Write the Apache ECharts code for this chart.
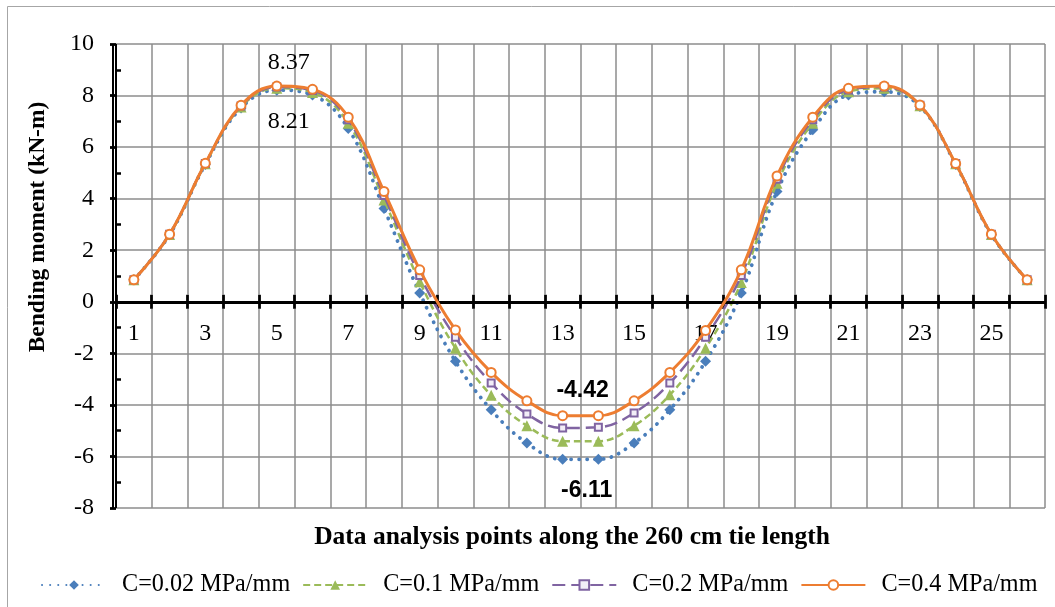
<!DOCTYPE html>
<html><head><meta charset="utf-8">
<script src="https://cdn.jsdelivr.net/npm/echarts@6/dist/echarts.min.js"></script>
<style>html,body{margin:0;padding:0;background:#fff}#c{width:1055px;height:607px}</style>
</head><body><div id="c"></div>
<script>
const categories = ['1','2','3','4','5','6','7','8','9','10','11','12','13','14','15','16','17','18','19','20','21','22','23','24','25','26'];
const seriesNames = ['C=0.02 MPa/mm','C=0.1 MPa/mm','C=0.2 MPa/mm','C=0.4 MPa/mm'];
const c002 = [0.85,2.60,5.33,7.52,8.21,8.02,6.72,3.62,0.34,-2.31,-4.19,-5.48,-6.11,-6.11,-5.48,-4.19,-2.31,0.34,4.28,6.67,8.02,8.15,7.58,5.33,2.60,0.85];
const c01  = [0.85,2.61,5.35,7.56,8.28,8.12,6.93,3.95,0.78,-1.80,-3.63,-4.81,-5.41,-5.41,-4.81,-3.61,-1.80,0.75,4.60,6.93,8.15,8.28,7.60,5.35,2.61,0.85];
const c02  = [0.85,2.62,5.36,7.59,8.33,8.20,7.06,4.12,1.02,-1.38,-3.15,-4.35,-4.90,-4.87,-4.31,-3.15,-1.38,1.02,4.75,7.06,8.22,8.33,7.62,5.36,2.62,0.85];
const c04  = [0.85,2.62,5.37,7.62,8.37,8.24,7.16,4.28,1.24,-1.09,-2.74,-3.84,-4.42,-4.42,-3.84,-2.74,-1.11,1.24,4.88,7.16,8.28,8.37,7.63,5.36,2.62,0.85];
const yMin = -8, yMax = 10, yStep = 2;

const serif = '"Liberation Serif", "DejaVu Serif", serif';
const sans = '"Liberation Sans", Arial, sans-serif';

function withLabels(arr, labels) {
  return arr.map((v, i) => labels[i] ? { value: v, label: labels[i] } : v);
}
const lblSerif = { show: true, formatter: '{c}', fontFamily: serif, fontSize: 24, color: '#000' };
const lblBold = { show: true, formatter: '{c}', fontFamily: sans, fontSize: 23, fontWeight: 'bold', color: '#000' };
const gray = { show: true, interval: 0, lineStyle: { color: '#8c8c8c', width: 1.5 } };
const black = (w) => ({ show: true, interval: 0, lineStyle: { color: '#000', width: w } });
const off = { axisLine: { show: false, onZero: false }, axisTick: { show: false }, axisLabel: { show: false } };
const hidden = (g) => ({ gridIndex: g, type: 'value', min: 0, max: 1, show: false });
const cat = (g, extra) => Object.assign({ gridIndex: g, type: 'category', data: categories, boundaryGap: true }, off, extra);

// plot box: top 44, bottom 508 (18 units -> 25.778 px per unit), zero line at 301.78
const U = 464 / (yMax - yMin);
const Z = 44 + yMax * U;
const chart = echarts.init(document.getElementById('c'), null, { renderer: 'canvas' });
chart.setOption({
  animation: false,
  backgroundColor: '#fff',
  grid: [
    { left: 116, top: 44, right: 10, bottom: 99 },                 // 0 main plot
    { left: 116, top: 44, right: 10, height: Z - 44 },             // 1 x labels under zero line
    { left: 116, top: 44, right: 10, height: Z - 7 - 44 },         // 2 vertical grid lines, upper part
    { left: 116, top: Z + 7, right: 10, bottom: 99 },              // 3 vertical grid lines, lower part
    { left: 116, top: 44, right: 10, height: (yMax - 2) * U },     // 4 horizontal grid lines 10..2
    { left: 116, top: Z + 2 * U, right: 10, bottom: 99 },          // 5 horizontal grid lines -2..-8
    { left: 116, top: Z - 7, right: 10, height: 14 },              // 6 x ticks crossing zero line
    { left: 113, top: 44, width: 2.5, height: 464 },               // 7 y axis line
    { left: 110, top: 44, width: 6, height: 464 }                  // 8 y major ticks
  ],
  xAxis: [
    cat(0, {}),
    cat(1, { position: 'bottom',
      axisLabel: { show: true, interval: 1, margin: 20, fontFamily: serif, fontSize: 24, color: '#000' } }),
    cat(2, { splitLine: gray }),
    cat(3, { splitLine: gray }),
    hidden(4),
    hidden(5),
    cat(6, { splitLine: black(2.8) }),
    Object.assign({ gridIndex: 7, type: 'value', min: 0, max: 1, interval: 1, splitLine: black(2) }, off),
    hidden(8)
  ],
  yAxis: [
    { gridIndex: 0, type: 'value', min: yMin, max: yMax, interval: yStep, position: 'left',
      axisLine: { show: false, onZero: false }, axisTick: { show: false, inside: true },
      minorTick: { show: true, splitNumber: 2, length: 5, lineStyle: { color: '#000', width: 2.5 } },
      axisLabel: { margin: 22, fontFamily: serif, fontSize: 24, color: '#000' },
      splitLine: { show: false } },
    hidden(1),
    hidden(2),
    hidden(3),
    Object.assign({ gridIndex: 4, type: 'value', min: 2, max: yMax, interval: yStep, splitLine: gray }, off),
    Object.assign({ gridIndex: 5, type: 'value', min: yMin, max: -2, interval: yStep, splitLine: gray }, off),
    hidden(6),
    hidden(7),
    Object.assign({ gridIndex: 8, type: 'value', min: yMin, max: yMax, interval: yStep, splitLine: black(2.8) }, off)
  ],
  legend: {
    bottom: 5, left: 36, itemWidth: 64, itemHeight: 12, itemGap: 12,
    textStyle: { fontFamily: serif, fontSize: 24.2, color: '#000', padding: [0, 0, 0, 11] },
    data: seriesNames
  },
  graphic: [
    { type: 'rect', silent: true, shape: { x: 7.5, y: 6.5, width: 1200, height: 1000 }, style: { fill: null, stroke: '#a6a6a6', lineWidth: 1 } },
    { type: 'text', silent: true, x: 38, y: 227, rotation: Math.PI / 2,
      style: { text: 'Bending moment (kN-m)', font: 'bold 23.5px ' + serif, fill: '#000', textAlign: 'center', textVerticalAlign: 'middle' } },
    { type: 'text', silent: true, x: 572, y: 537,
      style: { text: 'Data analysis points along the 260 cm tie length', font: 'bold 25.5px ' + serif, fill: '#000', textAlign: 'center', textVerticalAlign: 'middle' } }
  ],
  series: [{
    name: seriesNames[0], type: 'line', smooth: 0.4, z: 2, data: withLabels(c002, {
      4: Object.assign({}, lblSerif, { position: 'bottom', distance: 14, offset: [12, 0] }),
      12: Object.assign({}, lblBold, { position: 'bottom', distance: 14, offset: [24, 0] })
    }),
    symbol: 'diamond', symbolSize: 11,
    itemStyle: { color: '#4a7ebb' },
    lineStyle: { color: '#4a7ebb', width: 3.8, type: [0.1, 8], cap: 'round' },
    markLine: { silent: true, symbol: 'none', animation: false, label: { show: false },
      lineStyle: { color: '#000', width: 2.8, type: 'solid' }, data: [{ yAxis: 0 }] }
  }, {
    name: seriesNames[1], type: 'line', smooth: 0.4, z: 3, data: c01,
    symbol: 'triangle', symbolSize: 11,
    itemStyle: { color: '#9bbb59' },
    lineStyle: { color: '#9bbb59', width: 2.5, type: [7, 4] }
  }, {
    name: seriesNames[2], type: 'line', smooth: 0.4, z: 4, data: c02,
    symbol: 'rect', symbolSize: 7,
    itemStyle: { color: '#f2eef7', borderColor: '#8064a2', borderWidth: 2 },
    lineStyle: { color: '#8064a2', width: 2.5, type: [13, 6] }
  }, {
    name: seriesNames[3], type: 'line', smooth: 0.4, z: 5, data: withLabels(c04, {
      4: Object.assign({}, lblSerif, { position: 'top', distance: 6, offset: [12, 0] }),
      12: Object.assign({}, lblBold, { position: 'top', distance: 8, offset: [20, 0] })
    }),
    symbol: 'emptyCircle', symbolSize: 9,
    itemStyle: { color: '#ed7d31', borderWidth: 1.5 },
    lineStyle: { color: '#ed7d31', width: 3 }
  }]
});
</script>
</body></html>
